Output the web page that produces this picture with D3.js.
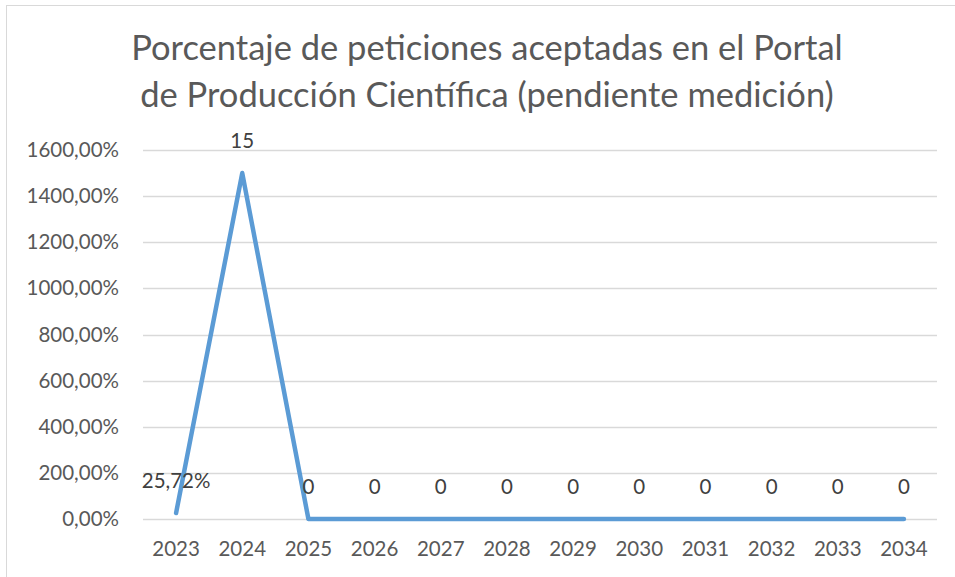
<!DOCTYPE html>
<html>
<head>
<meta charset="utf-8">
<script src="https://cdn.jsdelivr.net/npm/d3@7"></script>
<style>
  html, body { margin: 0; padding: 0; background: #fff; }
  svg { display: block; }
  text { font-family: Lato, "Open Sans", "Liberation Sans", sans-serif; }
</style>
</head>
<body>
<svg id="chart" width="955" height="577"></svg>
<script>
// Porcentaje de peticiones aceptadas (value as a fraction, 1 = 100%)
const years = ["2023","2024","2025","2026","2027","2028","2029","2030","2031","2032","2033","2034"];
const values = [0.2572, 15, 0, 0, 0, 0, 0, 0, 0, 0, 0, 0];
const valueLabels = ["25,72%","15","0","0","0","0","0","0","0","0","0","0"];
const yTicks = [0, 2, 4, 6, 8, 10, 12, 14, 16];
const titleLines = ["Porcentaje de peticiones aceptadas en el Portal", "de Producción Científica (pendiente medición)"];

const svg = d3.select("#chart");
const W = 955, H = 577;
const margin = { left: 143, right: 18, top: 150, bottom: 58 };
const labelSize = 20.5;

// outer chart frame
svg.append("rect")
  .attr("x", 6.5).attr("y", 5.5)
  .attr("width", W + 10).attr("height", H + 10)
  .attr("fill", "none").attr("stroke", "#d9d9d9").attr("stroke-width", 1);

const x = d3.scaleBand().domain(years).range([margin.left, W - margin.right]);
const y = d3.scaleLinear().domain([0, 16]).range([H - margin.bottom, margin.top]);

const fmtPct = v => d3.format(".2f")(v * 100).replace(".", ",") + "%";

// gridlines
svg.append("g").selectAll("line").data(yTicks).join("line")
  .attr("x1", margin.left).attr("x2", W - margin.right)
  .attr("y1", d => Math.round(y(d)) + 0.5).attr("y2", d => Math.round(y(d)) + 0.5)
  .attr("stroke", "#d9d9d9").attr("stroke-width", 1.5);

// y axis labels
const yAxis = d3.axisLeft(y).tickValues(yTicks).tickFormat(fmtPct).tickSize(0).tickPadding(24);
const gy = svg.append("g").attr("transform", `translate(${margin.left},0)`).call(yAxis);
gy.select(".domain").remove();
gy.selectAll("text").attr("font-size", labelSize).attr("fill", "#595959")
  .style("font-family", "Lato, 'Open Sans', sans-serif");

// x axis labels
const xAxis = d3.axisBottom(x).tickSize(0).tickPadding(22);
const gx = svg.append("g").attr("transform", `translate(0,${H - margin.bottom})`).call(xAxis);
gx.select(".domain").remove();
gx.selectAll("text").attr("font-size", labelSize).attr("fill", "#595959")
  .style("font-family", "Lato, 'Open Sans', sans-serif");

// series line
const line = d3.line()
  .x((d, i) => x(years[i]) + x.bandwidth() / 2)
  .y(d => y(d));
svg.append("path").datum(values)
  .attr("d", line)
  .attr("fill", "none").attr("stroke", "#5b9bd5")
  .attr("stroke-width", 4.5)
  .attr("stroke-linecap", "round").attr("stroke-linejoin", "round");

// data labels
svg.append("g").selectAll("text").data(values).join("text")
  .attr("x", (d, i) => x(years[i]) + x.bandwidth() / 2)
  .attr("y", d => y(d) - 25)
  .attr("text-anchor", "middle")
  .attr("font-size", labelSize).attr("fill", "#404040")
  .text((d, i) => valueLabels[i]);

// title
svg.append("g").selectAll("text").data(titleLines).join("text")
  .attr("x", 487).attr("y", (d, i) => 60 + i * 47)
  .attr("text-anchor", "middle")
  .attr("font-size", 34.5).attr("fill", "#595959")
  .text(d => d);
</script>
</body>
</html>
